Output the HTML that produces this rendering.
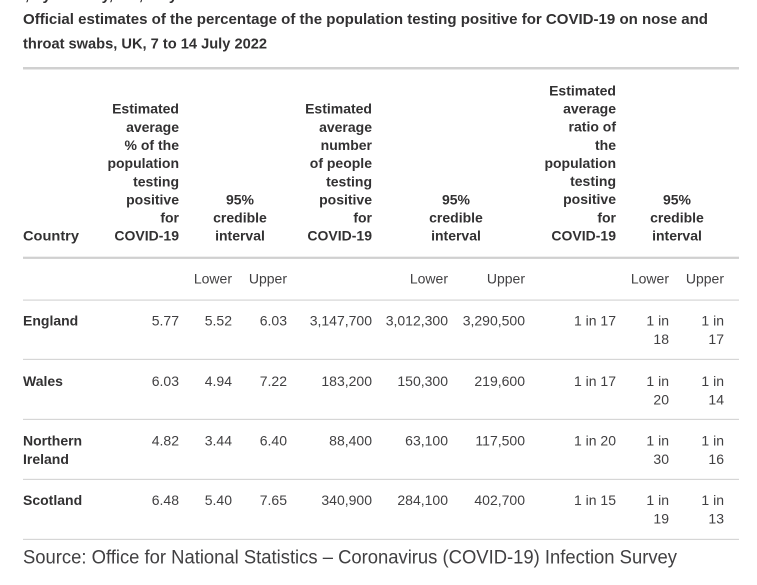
<!DOCTYPE html>
<html><head><meta charset="utf-8"><style>
html,body{margin:0;padding:0;background:#fff;}
svg{display:block;}
text{font-family:"Liberation Sans",Arial,sans-serif;}
.h{font-weight:bold;font-size:14px;fill:#323132;}
.b{font-size:14px;fill:#414042;}
.t{font-weight:bold;font-size:15px;fill:#323132;}
</style></head><body>
<svg width="757" height="585" viewBox="0 0 757 585" xmlns="http://www.w3.org/2000/svg">
<rect width="757" height="585" fill="#fff"/>
<text class="t" x="25" y="0">, by country, UK, July 2022</text>
<text class="t" x="23" y="24" textLength="685" lengthAdjust="spacingAndGlyphs">Official estimates of the percentage of the population testing positive for COVID-19 on nose and</text>
<text class="t" x="23" y="48.7" textLength="244" lengthAdjust="spacingAndGlyphs">throat swabs, UK, 7 to 14 July 2022</text>
<rect x="23" y="67" width="716" height="2.5" fill="#d0d0d0"/>

<!-- header -->
<g class="h">
<text x="23" y="240.7" textLength="56" lengthAdjust="spacingAndGlyphs">Country</text>
<g text-anchor="end">
<text x="179" y="113.7">Estimated</text>
<text x="179" y="131.9">average</text>
<text x="179" y="150">% of the</text>
<text x="179" y="168.1">population</text>
<text x="179" y="186.3">testing</text>
<text x="179" y="204.4">positive</text>
<text x="179" y="222.6">for</text>
<text x="179" y="240.7">COVID-19</text>

<text x="372" y="113.7">Estimated</text>
<text x="372" y="131.9">average</text>
<text x="372" y="150">number</text>
<text x="372" y="168.1">of people</text>
<text x="372" y="186.3">testing</text>
<text x="372" y="204.4">positive</text>
<text x="372" y="222.6">for</text>
<text x="372" y="240.7">COVID-19</text>

<text x="616" y="95.3">Estimated</text>
<text x="616" y="113.5">average</text>
<text x="616" y="131.6">ratio of</text>
<text x="616" y="149.8">the</text>
<text x="616" y="167.9">population</text>
<text x="616" y="186.1">testing</text>
<text x="616" y="204.2">positive</text>
<text x="616" y="222.4">for</text>
<text x="616" y="240.5">COVID-19</text>
</g>
<g text-anchor="middle">
<text x="240" y="204.4">95%</text>
<text x="240" y="222.6">credible</text>
<text x="240" y="240.7">interval</text>
<text x="456" y="204.4">95%</text>
<text x="456" y="222.6">credible</text>
<text x="456" y="240.7">interval</text>
<text x="677" y="204.4">95%</text>
<text x="677" y="222.6">credible</text>
<text x="677" y="240.7">interval</text>
</g>
</g>
<rect x="23" y="256.7" width="716" height="2.2" fill="#d0d0d0"/>

<g class="b" text-anchor="end">
<text x="232" y="283.7">Lower</text>
<text x="287" y="283.7">Upper</text>
<text x="448" y="283.7">Lower</text>
<text x="525" y="283.7">Upper</text>
<text x="669" y="283.7">Lower</text>
<text x="724" y="283.7">Upper</text>
</g>
<g fill="#d6d6d6">
<rect x="23" y="299.5" width="716" height="1.2"/>
<rect x="23" y="358.8" width="716" height="1.2"/>
<rect x="23" y="418.8" width="716" height="1.2"/>
<rect x="23" y="478.8" width="716" height="1.2"/>
<rect x="23" y="538.8" width="716" height="1.2"/>
</g>

<!-- rows -->
<g class="h">
<text x="23" y="325.7">England</text>
<text x="23" y="386">Wales</text>
<text x="23" y="445.7">Northern</text>
<text x="23" y="464">Ireland</text>
<text x="23" y="505">Scotland</text>
</g>
<g class="b" text-anchor="end">
<text x="179" y="325.7">5.77</text><text x="232" y="325.7">5.52</text><text x="287" y="325.7">6.03</text>
<text x="372" y="325.7">3,147,700</text><text x="448" y="325.7">3,012,300</text><text x="525" y="325.7">3,290,500</text>
<text x="616" y="325.7">1 in 17</text><text x="669" y="325.7">1 in</text><text x="669" y="344">18</text><text x="724" y="325.7">1 in</text><text x="724" y="344">17</text>

<text x="179" y="386">6.03</text><text x="232" y="386">4.94</text><text x="287" y="386">7.22</text>
<text x="372" y="386">183,200</text><text x="448" y="386">150,300</text><text x="525" y="386">219,600</text>
<text x="616" y="386">1 in 17</text><text x="669" y="386">1 in</text><text x="669" y="404.3">20</text><text x="724" y="386">1 in</text><text x="724" y="404.3">14</text>

<text x="179" y="445.7">4.82</text><text x="232" y="445.7">3.44</text><text x="287" y="445.7">6.40</text>
<text x="372" y="445.7">88,400</text><text x="448" y="445.7">63,100</text><text x="525" y="445.7">117,500</text>
<text x="616" y="445.7">1 in 20</text><text x="669" y="445.7">1 in</text><text x="669" y="464">30</text><text x="724" y="445.7">1 in</text><text x="724" y="464">16</text>

<text x="179" y="505">6.48</text><text x="232" y="505">5.40</text><text x="287" y="505">7.65</text>
<text x="372" y="505">340,900</text><text x="448" y="505">284,100</text><text x="525" y="505">402,700</text>
<text x="616" y="505">1 in 15</text><text x="669" y="505">1 in</text><text x="669" y="523.3">19</text><text x="724" y="505">1 in</text><text x="724" y="523.3">13</text>
</g>

<text x="23" y="563.3" font-size="19" fill="#414042" textLength="654" lengthAdjust="spacingAndGlyphs">Source: Office for National Statistics – Coronavirus (COVID-19) Infection Survey</text>
</svg>
</body></html>
